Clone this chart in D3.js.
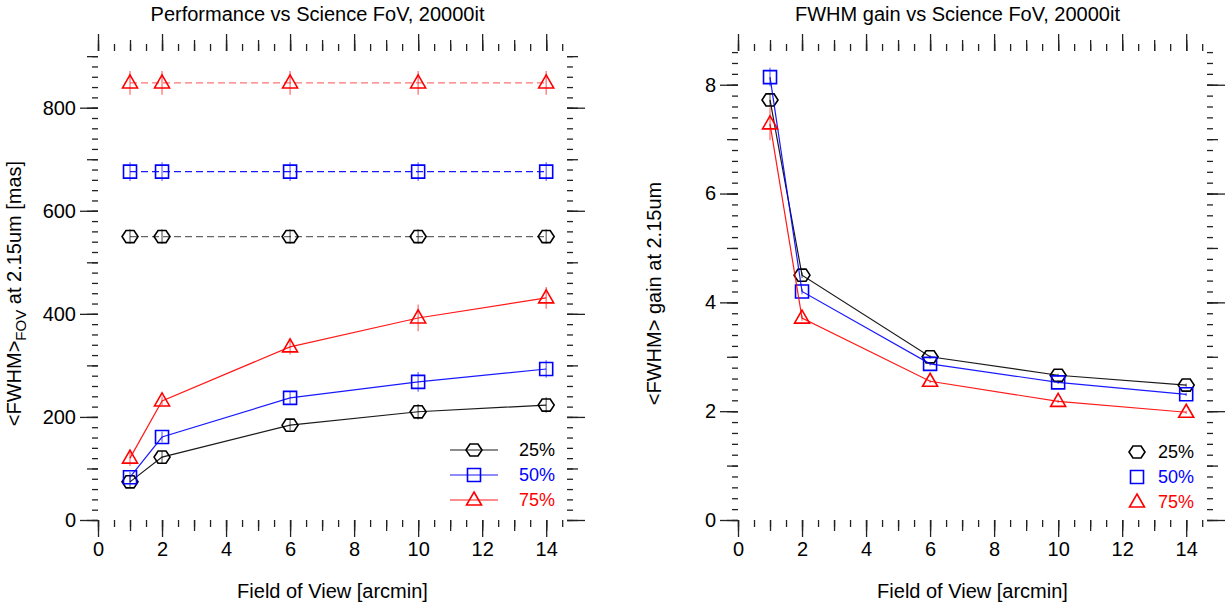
<!DOCTYPE html>
<html>
<head>
<meta charset="utf-8">
<script src="https://cdn.jsdelivr.net/npm/d3@7"></script>
<style>
  body { margin: 0; background: #fff; }
  text { font-family: "Liberation Sans", Arial, Helvetica, sans-serif; }
</style>
</head>
<body>
<div class="canvas"></div>
<script>
// ---------------------------------------------------------------- data
const fov = [1, 2, 6, 10, 14];
const levels = ['25%', '50%', '75%'];

// seeing-limited FWHM (dashed), per level
const seeing25 = [550, 550, 550, 550, 550];
const seeing50 = [676, 676, 676, 676, 676];
const seeing75 = [848, 848, 848, 848, 848];
const seeingErr25 = [14, 14, 14, 14, 14];
const seeingErr50 = [18, 18, 18, 18, 18];
const seeingErr75 = [23, 23, 23, 23, 23];

// corrected FWHM (solid)
const fwhm25 = [74, 122, 184, 210, 223];
const fwhm50 = [83, 161, 237, 268, 293];
const fwhm75 = [120, 231, 336, 392, 431];
const fwhmErr25 = [10, 12, 10, 15, 15];
const fwhmErr50 = [10, 10, 12, 19, 17];
const fwhmErr75 = [15, 8, 15, 26, 21];

// FWHM gain
const gain25 = [7.72, 4.50, 3.00, 2.66, 2.48];
const gain50 = [8.14, 4.20, 2.87, 2.53, 2.31];
const gain75 = [7.28, 3.71, 2.55, 2.18, 1.98];
const gainErr25 = [0.10, 0.05, 0.03, 0.03, 0.03];
const gainErr50 = [0.17, 0.05, 0.03, 0.03, 0.03];
const gainErr75 = [0.30, 0.05, 0.03, 0.03, 0.03];

// tick labels
const xTicks = [0, 2, 4, 6, 8, 10, 12, 14];
const fwhmTicks = [0, 200, 400, 600, 800];
const gainTicks = [0, 2, 4, 6, 8];

// ---------------------------------------------------------------- setup
const W = 1225, H = 607;
const svg = d3.select('.canvas')
    .append('svg')
    .attr('width', W)
    .attr('height', H);

const colors = ['#000000', '#0000ff', '#ff0000'];
const dashOpacity = [0.6, 0.9, 0.55];
const shapes = ['hex', 'square', 'tri'];

// marker path generator
const markerPath = (shape) => {
    if (shape === 'hex') {
        const pts = d3.range(6).map(i => [8 * Math.cos(i * Math.PI / 3), 7 * Math.sin(i * Math.PI / 3)]);
        return d3.line()(pts) + 'Z';
    }
    if (shape === 'square') return 'M-6.5,-6.5H6.5V6.5H-6.5Z';
    return 'M0,-8L7.5,5H-7.5Z';
};

const drawTicks = (g, x, y, w, h, xs, ys) => {
    // xs / ys: [step, length] pairs from minor to major; major gets labels
    const dom = x.domain(), ydom = y.domain();
    xs.forEach(([step, len, labels]) => {
        const vals = labels || d3.range(0, dom[1] + 1e-9, step);
        const bottom = d3.axisBottom(x).tickValues(vals).tickSize(len).tickPadding(5)
            .tickFormat(labels ? d3.format('d') : '');
        const top = d3.axisTop(x).tickValues(vals).tickSize(len).tickFormat('');
        g.append('g').attr('transform', `translate(0,${h})`).call(bottom);
        g.append('g').call(top);
    });
    ys.forEach(([step, len, labels]) => {
        const vals = labels || d3.range(0, ydom[1] + 1e-9, step);
        const left = d3.axisLeft(y).tickValues(vals).tickSize(len).tickPadding(4)
            .tickFormat(labels ? d3.format('d') : '');
        const right = d3.axisRight(y).tickValues(vals).tickSize(len).tickFormat('');
        g.append('g').call(left);
        g.append('g').attr('transform', `translate(${w},0)`).call(right);
    });
    g.selectAll('.domain').remove();
    g.selectAll('.tick line').attr('stroke', '#222').attr('stroke-width', 1.3);
    g.selectAll('.tick text').attr('font-size', 20).attr('fill', '#000')
        .style('font-family', '"Liberation Sans", Arial, sans-serif');
};

const drawSeries = (g, x, y, vals, errs, i, dashed) => {
    const pts = fov.map((f, k) => ({ f, v: vals[k], e: errs[k] }));
    const line = d3.line().x(d => x(d.f)).y(d => y(d.v));
    g.append('path')
        .datum(pts)
        .attr('d', line)
        .attr('fill', 'none')
        .attr('stroke', colors[i])
        .attr('stroke-width', 1.2)
        .attr('stroke-opacity', dashed ? dashOpacity[i] : 0.9)
        .attr('stroke-dasharray', dashed ? '7,4' : null);
    g.selectAll(null).data(pts).enter()
        .append('line')
        .attr('x1', d => x(d.f)).attr('x2', d => x(d.f))
        .attr('y1', d => y(d.v - d.e)).attr('y2', d => y(d.v + d.e))
        .attr('stroke', colors[i]).attr('stroke-opacity', 0.55).attr('stroke-width', 1.3);
    g.selectAll(null).data(pts).enter()
        .append('path')
        .attr('d', markerPath(shapes[i]))
        .attr('transform', d => `translate(${x(d.f)},${y(d.v)})`)
        .attr('fill', 'none')
        .attr('stroke', colors[i])
        .attr('stroke-width', 1.6);
};

const panel = (cfg) => {
    const w = cfg.right - cfg.left, h = 520 - 51;
    const g = svg.append('g').attr('transform', `translate(${cfg.left},51)`);
    const x = d3.scaleLinear().domain([0, 14.65]).range([0, w]);
    const y = d3.scaleLinear().domain([0, cfg.ymax]).range([h, 0]);

    drawTicks(g, x, y, w, h,
        [[0.5, 7], [1, 11], [2, 17, xTicks]],
        [[cfg.yMinor, 6], [cfg.yMed, 11], [cfg.yMed * 2, 18, cfg.yTicks]]);

    cfg.series.forEach(s => drawSeries(g, x, y, s.vals, s.errs, s.i, s.dashed));

    // titles
    g.append('text').attr('x', w / 2 - 15).attr('y', -30)
        .attr('text-anchor', 'middle').attr('font-size', 20).text(cfg.title);
    g.append('text').attr('x', w / 2).attr('y', h + 78)
        .attr('text-anchor', 'middle').attr('font-size', 20).text('Field of View [arcmin]');
    const yt = g.append('text')
        .attr('transform', `translate(${cfg.ytX},${h / 2 + 8}) rotate(-90)`)
        .attr('text-anchor', 'middle').attr('font-size', 20);
    cfg.ytitle(yt);

    // legend
    levels.forEach((lab, i) => {
        const ly = cfg.legY + i * 25;
        if (cfg.legLine) {
            g.append('line').attr('x1', cfg.legX - 24).attr('x2', cfg.legX + 24)
                .attr('y1', ly).attr('y2', ly)
                .attr('stroke', colors[i]).attr('stroke-width', 1.2).attr('stroke-opacity', 0.9);
        }
        g.append('path').attr('d', markerPath(shapes[i]))
            .attr('transform', `translate(${cfg.legX},${ly})`)
            .attr('fill', 'none').attr('stroke', colors[i]).attr('stroke-width', 1.6);
        g.append('text').attr('x', cfg.legX + cfg.legTextDx).attr('y', ly + 6)
            .attr('font-size', 18).attr('fill', colors[i]).text(lab);
    });
};

panel({
    left: 98, right: 567, ymax: 910,
    yMinor: 20, yMed: 100, yTicks: fwhmTicks,
    title: 'Performance vs Science FoV, 20000it',
    ytX: -77,
    ytitle: t => {
        t.append('tspan').text('<FWHM>');
        t.append('tspan').attr('font-size', 15).attr('dy', 5).text('FOV');
        t.append('tspan').attr('dy', -5).text(' at 2.15um [mas]');
    },
    legX: 376, legY: 399, legLine: true, legTextDx: 45,
    series: [
        { vals: seeing25, errs: seeingErr25, i: 0, dashed: true },
        { vals: seeing50, errs: seeingErr50, i: 1, dashed: true },
        { vals: seeing75, errs: seeingErr75, i: 2, dashed: true },
        { vals: fwhm25, errs: fwhmErr25, i: 0, dashed: false },
        { vals: fwhm50, errs: fwhmErr50, i: 1, dashed: false },
        { vals: fwhm75, errs: fwhmErr75, i: 2, dashed: false }
    ]
});

panel({
    left: 738, right: 1207, ymax: 8.62,
    yMinor: 0.2, yMed: 1, yTicks: gainTicks,
    title: 'FWHM gain vs Science FoV, 20000it',
    ytX: -77,
    ytitle: t => t.text('<FWHM> gain at 2.15um'),
    legX: 399, legY: 401, legLine: false, legTextDx: 21,
    series: [
        { vals: gain25, errs: gainErr25, i: 0, dashed: false },
        { vals: gain50, errs: gainErr50, i: 1, dashed: false },
        { vals: gain75, errs: gainErr75, i: 2, dashed: false }
    ]
});
</script>
</body>
</html>
